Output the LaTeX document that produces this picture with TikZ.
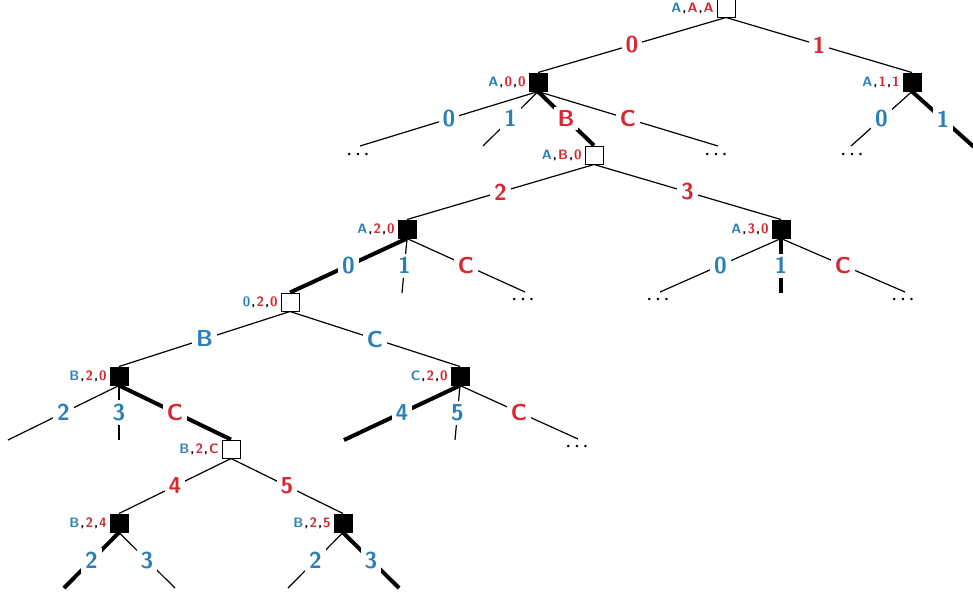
\documentclass[tikz,border=0pt]{standalone}
\usepackage{xcolor}
\usepackage{tikz}
\definecolor{tree-blue}{RGB}{41,128,185}
\definecolor{tree-red}{RGB}{214,40,48}
\tikzset{
    chance/.style={draw, fill=white, minimum size=9pt, inner sep=0pt, line width=0.5pt},
    decision/.style={draw, fill=black, minimum size=9pt, inner sep=0pt, line width=0.5pt},
    infolabel/.style={font=\sffamily\bfseries\fontsize{6.8}{7}\selectfont, inner sep=1.2pt},
    move/.style={midway, fill=white, inner sep=2pt, font=\sffamily\bfseries\fontsize{11.5}{12}\selectfont},
    bluemove/.style={move, text=tree-blue},
    redmove/.style={move, text=tree-red},
    thinedge/.style={line width=0.6pt},
    thickedge/.style={line width=2pt},
    dots/.style={inner sep=0pt, font=\boldmath\fontsize{8.5}{9}\selectfont}
}
\newcommand{\istate}[3]{\textcolor{tree-blue}{#1}\kern0.5pt,\kern0.5pt\textcolor{tree-red}{#2}\kern0.5pt,\kern0.5pt\textcolor{tree-red}{#3}}

\begin{document}
\begin{tikzpicture}[x=0.5pt, y=-0.5pt]
    \useasboundingbox (0,0) rectangle (973,596);

    % information sets
    \node[chance, label={[infolabel]left:{\istate{A}{A}{A}}}] (aaa) at (726,8) {};
    \node[decision, label={[infolabel]left:{\istate{A}{0}{0}}}] (a00) at (538,82) {};
    \node[decision, label={[infolabel]left:{\istate{A}{1}{1}}}] (a11) at (912,82) {};
    \node[chance, label={[infolabel]left:{\istate{A}{B}{0}}}] (ab0) at (594,155) {};
    \node[decision, label={[infolabel]left:{\istate{A}{2}{0}}}] (a20) at (407,229) {};
    \node[decision, label={[infolabel]left:{\istate{A}{3}{0}}}] (a30) at (781,229) {};
    \node[chance, label={[infolabel]left:{\istate{0}{2}{0}}}] (o20) at (290,302) {};
    \node[decision, label={[infolabel]left:{\istate{B}{2}{0}}}] (b20) at (119,376) {};
    \node[decision, label={[infolabel]left:{\istate{C}{2}{0}}}] (c20) at (460,376) {};
    \node[chance, label={[infolabel]left:{\istate{B}{2}{C}}}] (b2c) at (231,449) {};
    \node[decision, label={[infolabel]left:{\istate{B}{2}{4}}}] (b24) at (119,523) {};
    \node[decision, label={[infolabel]left:{\istate{B}{2}{5}}}] (b25) at (343,523) {};

    % loose ends
    \coordinate (a00-0) at (360,146);
    \coordinate (a00-1) at (483,146);
    \coordinate (a00-c) at (718,146);
    \coordinate (a11-0) at (851,146);
    \coordinate (a11-1) at (974,147);
    \coordinate (a20-1) at (402,293);
    \coordinate (a20-c) at (525,292);
    \coordinate (a30-0) at (660,292);
    \coordinate (a30-1) at (781,293);
    \coordinate (a30-c) at (905,292);
    \coordinate (b20-2) at (8,440);
    \coordinate (b20-3) at (119,440);
    \coordinate (c20-4) at (344,440);
    \coordinate (c20-5) at (455,440);
    \coordinate (c20-c) at (578,439);
    \coordinate (b24-2) at (64,588);
    \coordinate (b24-3) at (175,588);
    \coordinate (b25-2) at (288,588);
    \coordinate (b25-3) at (399,588);

    \node[dots] (dots1) at (358,155) {$\cdots$};
    \node[dots] (dots2) at (716,155) {$\cdots$};
    \node[dots] (dots3) at (852,155) {$\cdots$};
    \node[dots] (dots4) at (523,300) {$\cdots$};
    \node[dots] (dots5) at (658,300) {$\cdots$};
    \node[dots] (dots6) at (903,300) {$\cdots$};
    \node[dots] (dots7) at (577,447) {$\cdots$};

    % moves
    \draw[thinedge] (aaa.south) -- node[redmove] {0} (a00.north);
    \draw[thinedge] (aaa.south) -- node[redmove] {1} (a11.north);

    \draw[thinedge] (a00.south) -- node[bluemove] {0} (a00-0);
    \draw[thinedge] (a00.south) -- node[bluemove] {1} (a00-1);
    \draw[thickedge] (a00.south) -- node[redmove] {B} (ab0.north);
    \draw[thinedge] (a00.south) -- node[redmove] {C} (a00-c);

    \draw[thinedge] (a11.south) -- node[bluemove] {0} (a11-0);
    \draw[thickedge] (a11.south) -- node[bluemove] {1} (a11-1);

    \draw[thinedge] (ab0.south) -- node[redmove] {2} (a20.north);
    \draw[thinedge] (ab0.south) -- node[redmove] {3} (a30.north);

    \draw[thickedge] (a20.south) -- node[bluemove] {0} (o20.north);
    \draw[thinedge] (a20.south) -- node[bluemove] {1} (a20-1);
    \draw[thinedge] (a20.south) -- node[redmove] {C} (a20-c);

    \draw[thinedge] (a30.south) -- node[bluemove] {0} (a30-0);
    \draw[thickedge] (a30.south) -- node[bluemove] {1} (a30-1);
    \draw[thinedge] (a30.south) -- node[redmove] {C} (a30-c);

    \draw[thinedge] (o20.south) -- node[bluemove] {B} (b20.north);
    \draw[thinedge] (o20.south) -- node[bluemove] {C} (c20.north);

    \draw[thinedge] (b20.south) -- node[bluemove] {2} (b20-2);
    \draw[thinedge] (b20.south) -- node[bluemove] {3} (b20-3);
    \draw[thickedge] (b20.south) -- node[redmove] {C} (b2c.north);

    \draw[thickedge] (c20.south) -- node[bluemove] {4} (c20-4);
    \draw[thinedge] (c20.south) -- node[bluemove] {5} (c20-5);
    \draw[thinedge] (c20.south) -- node[redmove] {C} (c20-c);

    \draw[thinedge] (b2c.south) -- node[redmove] {4} (b24.north);
    \draw[thinedge] (b2c.south) -- node[redmove] {5} (b25.north);

    \draw[thickedge] (b24.south) -- node[bluemove] {2} (b24-2);
    \draw[thinedge] (b24.south) -- node[bluemove] {3} (b24-3);
    \draw[thinedge] (b25.south) -- node[bluemove] {2} (b25-2);
    \draw[thickedge] (b25.south) -- node[bluemove] {3} (b25-3);
\end{tikzpicture}
\end{document}
